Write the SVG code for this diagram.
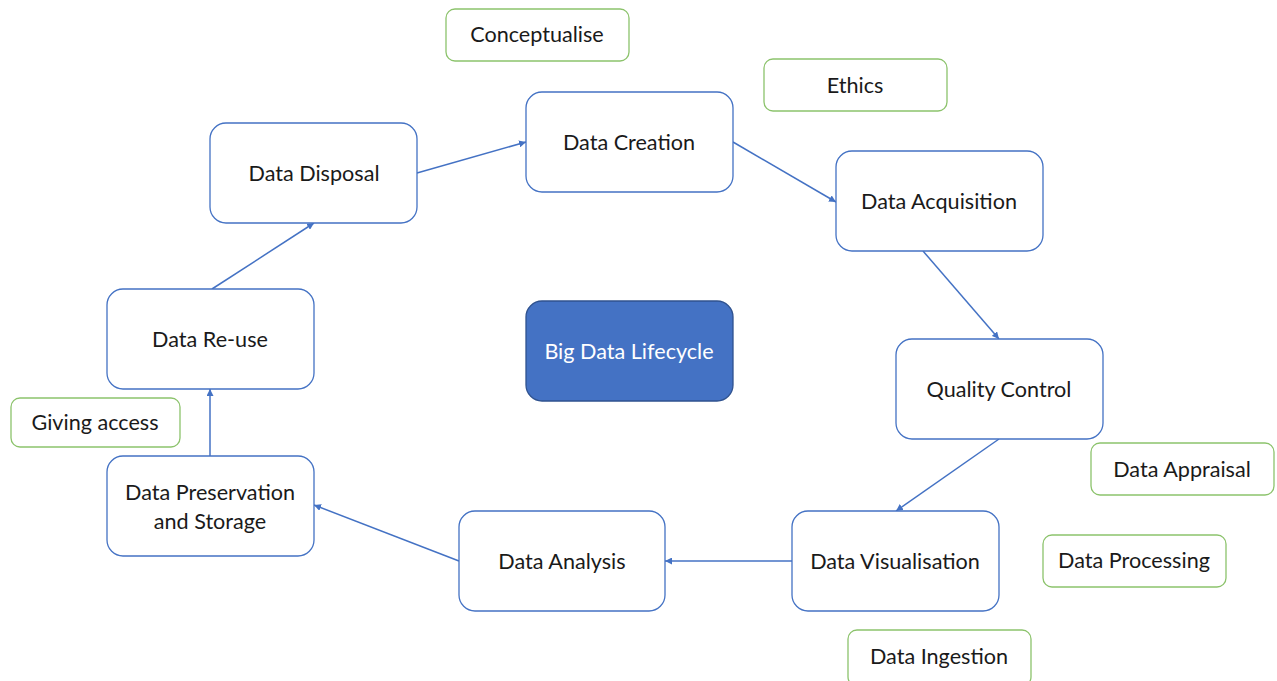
<svg xmlns="http://www.w3.org/2000/svg" width="1277" height="681" viewBox="0 0 1277 681">
  <defs>
    <marker id="arrow" viewBox="0 0 10 10" refX="10" refY="5" markerWidth="7" markerHeight="7" markerUnits="userSpaceOnUse" orient="auto">
      <path d="M0,0 L10,5 L0,10 z" fill="#4472C4"/>
    </marker>
    <style>
      .stage rect { fill: #ffffff; stroke: #4472C4; stroke-width: 1.3; }
      .tag rect { fill: #ffffff; stroke: #8CC36C; stroke-width: 1.3; }
      .hub rect { fill: #4472C4; stroke: #2F528F; stroke-width: 1.3; }
      text { font-family: Lato, "Open Sans", "Liberation Sans", sans-serif; font-size: 21.6px; fill: #1a1a1a; text-anchor: middle; dominant-baseline: central; }
      .hub text { fill: #ffffff; }
      .links line { stroke: #4472C4; stroke-width: 1.5; marker-end: url(#arrow); }
    </style>
  </defs>
  <rect width="1277" height="681" fill="#ffffff"/>

  <!-- cycle connectors -->
  <g id="connectors" class="links">
    <line x1="417" y1="173" x2="526" y2="142"/>
    <line x1="733" y1="142" x2="836" y2="202"/>
    <line x1="923" y1="251" x2="999" y2="339"/>
    <line x1="999" y1="439" x2="896" y2="511"/>
    <line x1="792" y1="561" x2="665" y2="561"/>
    <line x1="459" y1="561" x2="314" y2="505"/>
    <line x1="210" y1="456" x2="210" y2="389"/>
    <line x1="212" y1="289" x2="314" y2="223"/>
  </g>

  <!-- lifecycle stages -->
  <g id="data-disposal" class="stage">
    <rect x="210" y="123" width="207" height="100" rx="16"/>
    <text x="314" y="173">Data Disposal</text>
  </g>
  <g id="data-creation" class="stage">
    <rect x="526" y="92" width="207" height="100" rx="16"/>
    <text x="629" y="142">Data Creation</text>
  </g>
  <g id="data-acquisition" class="stage">
    <rect x="836" y="151" width="207" height="100" rx="16"/>
    <text x="939" y="201">Data Acquisition</text>
  </g>
  <g id="quality-control" class="stage">
    <rect x="896" y="339" width="207" height="100" rx="16"/>
    <text x="999" y="389">Quality Control</text>
  </g>
  <g id="data-visualisation" class="stage">
    <rect x="792" y="511" width="207" height="100" rx="16"/>
    <text x="895" y="561">Data Visualisation</text>
  </g>
  <g id="data-analysis" class="stage">
    <rect x="459" y="511" width="206" height="100" rx="16"/>
    <text x="562" y="561">Data Analysis</text>
  </g>
  <g id="data-preservation" class="stage">
    <rect x="107" y="456" width="207" height="100" rx="16"/>
    <text x="210" y="492">Data Preservation</text>
    <text x="210" y="521">and Storage</text>
  </g>
  <g id="data-reuse" class="stage">
    <rect x="107" y="289" width="207" height="100" rx="16"/>
    <text x="210" y="339">Data Re-use</text>
  </g>

  <!-- centre -->
  <g id="big-data-lifecycle" class="hub">
    <rect x="526" y="301" width="207" height="100" rx="16"/>
    <text x="629" y="351">Big Data Lifecycle</text>
  </g>

  <!-- side activities -->
  <g id="conceptualise" class="tag">
    <rect x="446" y="9" width="183" height="52" rx="9"/>
    <text x="537" y="34">Conceptualise</text>
  </g>
  <g id="ethics" class="tag">
    <rect x="764" y="59" width="183" height="52" rx="9"/>
    <text x="855" y="85">Ethics</text>
  </g>
  <g id="giving-access" class="tag">
    <rect x="11" y="398" width="169" height="49" rx="9"/>
    <text x="95" y="422">Giving access</text>
  </g>
  <g id="data-appraisal" class="tag">
    <rect x="1091" y="443" width="183" height="52" rx="9"/>
    <text x="1182" y="469">Data Appraisal</text>
  </g>
  <g id="data-processing" class="tag">
    <rect x="1043" y="535" width="183" height="52" rx="9"/>
    <text x="1134" y="560">Data Processing</text>
  </g>
  <g id="data-ingestion" class="tag">
    <rect x="848" y="630" width="183" height="56" rx="9"/>
    <text x="939" y="656">Data Ingestion</text>
  </g>
</svg>
